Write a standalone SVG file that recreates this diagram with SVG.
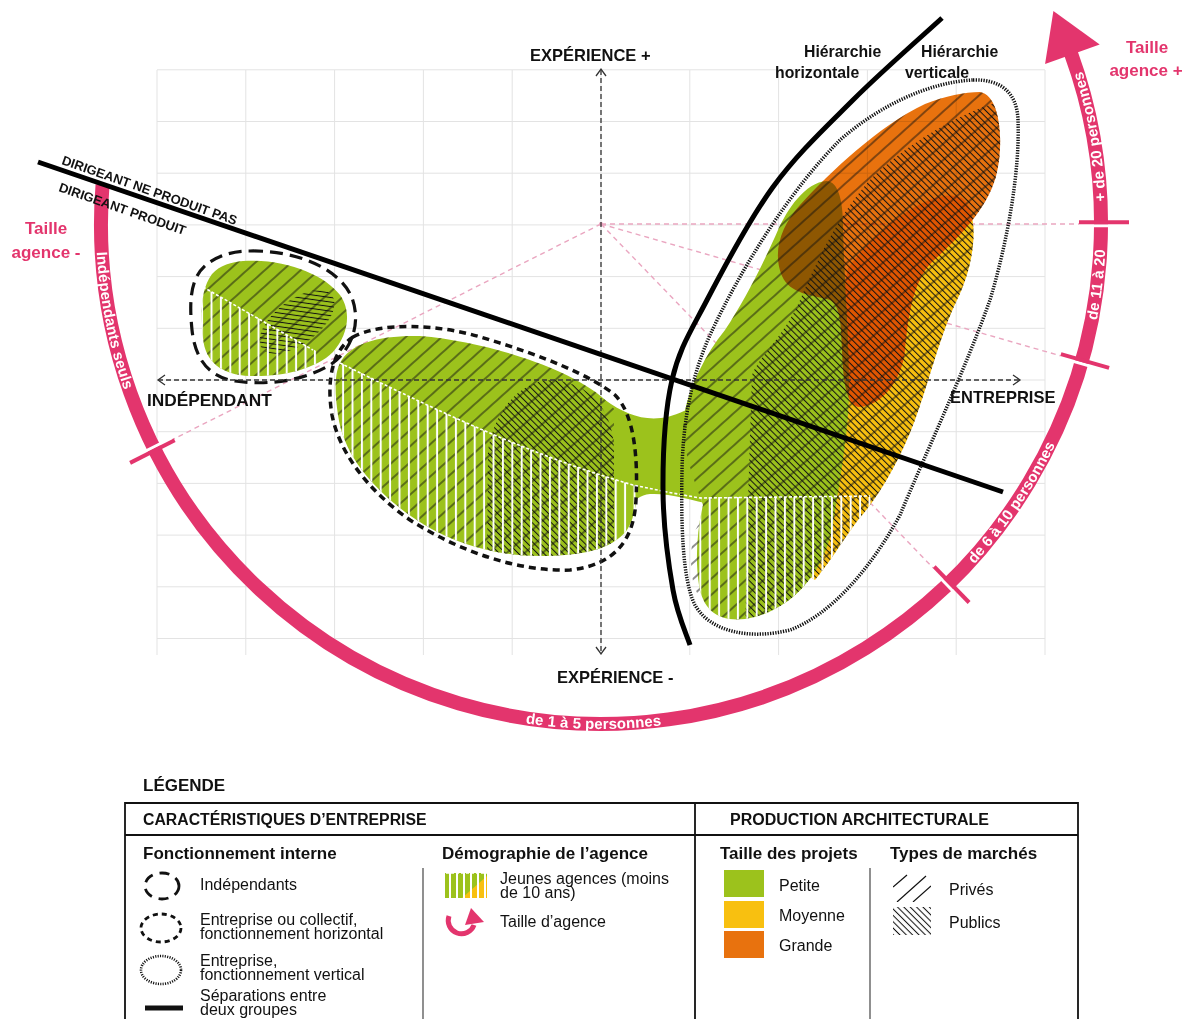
<svg xmlns="http://www.w3.org/2000/svg" width="1191" height="1019" viewBox="0 0 1191 1019">
<defs>
<style>
.grid{stroke:#e3e3e3;stroke-width:1;fill:none}
.axis{stroke:#333;stroke-width:1.3;stroke-dasharray:5 3;fill:none}
.chev{stroke:#333;stroke-width:1.3;fill:none}
.ray{stroke:#eaa6c0;stroke-width:1.4;stroke-dasharray:5 4;fill:none}
.sep{stroke:#000;stroke-width:5;fill:none}
.t{font-family:'Liberation Sans',Arial,sans-serif;fill:#111}
.b{font-weight:bold}
.pk{font-family:'Liberation Sans',Arial,sans-serif;font-weight:bold;fill:#e3356d;font-size:17px;text-anchor:middle}
.arct{font-family:'Liberation Sans',Arial,sans-serif;font-weight:bold;fill:#fff;font-size:15px}
.leg{font-size:16px}
.green{fill:#9cc21c}
.yellow{fill:#f8c010}
.orange{fill:#e8720e}
.wdash{stroke:#fff;stroke-width:1.6;stroke-dasharray:3 2;fill:none}
</style>
<pattern id="priv" patternUnits="userSpaceOnUse" width="20" height="12" patternTransform="rotate(-42)"><line x1="0" y1="6" x2="20" y2="6" stroke="#111" stroke-width="0.95"/></pattern>
<pattern id="pub" patternUnits="userSpaceOnUse" width="10" height="4.5" patternTransform="rotate(45)"><line x1="0" y1="2.25" x2="10" y2="2.25" stroke="#111" stroke-width="1.05"/></pattern>
<pattern id="young" patternUnits="userSpaceOnUse" width="9.4" height="10"><line x1="4.7" y1="0" x2="4.7" y2="10" stroke="#fff" stroke-width="2"/></pattern>
<path id="pSmall" d="M243,261 C285,258 325,275 340,295 C352,312 348,335 333,352 C315,370 280,377 250,376 C222,375 205,362 203,338 C201,315 200,290 212,274 C220,265 232,262 243,261 Z"/>
<path id="pBig" d="M340,363 C350,343 380,335 420,336 C470,340 525,356 560,372 C595,388 622,408 632,440 C640,470 640,510 627,530 C612,550 580,556 540,556 C490,556 440,540 400,508 C365,480 343,450 338,415 C335,395 334,375 340,363 Z"/>
<path id="pNeck" d="M605,400 C630,418 655,425 684,411 L700,405 L715,505 C690,500 670,493 650,494 C640,495 635,500 628,506 Z"/>
<path id="pGreenR" d="M827,181 C838,182 843,200 843,225 C844,280 849,330 849,390 C849,430 840,480 832,530 C822,575 790,612 745,619 C718,622 703,610 699,585 C695,560 697,530 703,505 C690,470 680,440 684,415 C690,385 705,355 725,330 C745,300 765,260 778,230 C787,210 805,182 827,181 Z"/>
<path id="pYellow" d="M962,198 C980,212 976,262 957,300 C940,335 928,385 915,420 C900,460 880,495 858,520 C843,540 830,562 815,580 L800,570 L828,380 L848,268 C880,225 935,185 962,198 Z"/>
<path id="pOrange" d="M980,92 C1000,95 1004,140 997,172 C990,205 962,235 932,262 C912,282 908,320 905,350 C902,382 880,406 860,407 C846,407 843,380 842,350 C841,322 840,306 830,300 C812,295 790,294 782,276 C772,252 781,226 800,205 C830,172 880,125 925,104 C945,96 965,92 980,92 Z"/>
<clipPath id="cSmall"><use href="#pSmall"/></clipPath>
<clipPath id="cBig"><use href="#pBig"/></clipPath>
<clipPath id="cRight"><use href="#pGreenR"/><use href="#pYellow"/><use href="#pOrange"/></clipPath>
<clipPath id="cRightP"><use href="#pGreenR"/><use href="#pYellow"/><use href="#pOrange"/><ellipse cx="703" cy="560" rx="12" ry="38"/></clipPath>
<clipPath id="cPriv"><rect x="893" y="874" width="38" height="28"/></clipPath>
<path id="arcp" d="M102.54,184.77 A500,500 0 1 0 1070.85,52.99"/>
</defs>

<rect width="1191" height="1019" fill="#fff"/>

<g id="grid">
<path class="grid" d="M157,70V655M245.8,70V655M334.6,70V655M423.4,70V655M512.2,70V655M601,70V655M689.8,70V655M778.6,70V655M867.4,70V655M956.2,70V655M1045,70V655M157,69.8H1045M157,121.5H1045M157,173.2H1045M157,224.9H1045M157,276.6H1045M157,328.3H1045M157,380H1045M157,431.7H1045M157,483.4H1045M157,535.1H1045M157,586.8H1045M157,638.5H1045"/>
</g>

<g id="rays">
<path class="ray" d="M601,224 L172.2,439.7 M601,224 L933,567.8 M601,224 L1060.5,355.8 M601,224 L1079,224"/>
<circle cx="601" cy="224" r="2" fill="#eaa6c0"/>
</g>

<g id="size-arc">
<use href="#arcp" fill="none" stroke="#e3356d" stroke-width="14"/>
<polygon points="1053.4,11.1 1045.1,64.1 1099.7,44.5" fill="#e3356d"/>
<g stroke-width="3">
<line x1="162.5" y1="442.6" x2="144.6" y2="451.6" stroke="#fff"/>
<line x1="940.1" y1="577.7" x2="954" y2="592.1" stroke="#fff"/>
<line x1="1071.5" y1="360.7" x2="1090.7" y2="366.3" stroke="#fff"/>
<line x1="1091" y1="225.7" x2="1111" y2="225.8" stroke="#fff"/>
</g>
<g stroke="#e3356d" stroke-width="4">
<line x1="174.7" y1="440.3" x2="130.1" y2="462.9"/>
<line x1="934.2" y1="566.7" x2="969.1" y2="602.5"/>
<line x1="1060.9" y1="354.2" x2="1109.1" y2="367.8"/>
<line x1="1079" y1="222.3" x2="1129" y2="222.2"/>
</g>
<text class="arct" dy="5"><textPath href="#arcp" startOffset="137" text-anchor="middle">Indépendants seuls</textPath></text>
<text class="arct" dy="5"><textPath href="#arcp" startOffset="817" text-anchor="middle">de 1 à 5 personnes</textPath></text>
<text class="arct" dy="5"><textPath href="#arcp" startOffset="1312" text-anchor="middle">de 6 à 10 personnes</textPath></text>
<text class="arct" dy="5"><textPath href="#arcp" startOffset="1549" text-anchor="middle">de 11 à 20</textPath></text>
<text class="arct" dy="5"><textPath href="#arcp" startOffset="1698" text-anchor="middle">+ de 20 personnes</textPath></text>
<text class="pk" x="46" y="234">Taille</text>
<text class="pk" x="46" y="258">agence -</text>
<text class="pk" x="1147" y="53">Taille</text>
<text class="pk" x="1146" y="76">agence +</text>
</g>

<g id="blob-independants">
<use href="#pSmall" class="green"/>
<g clip-path="url(#cSmall)">
<rect x="195" y="255" width="160" height="130" fill="url(#priv)"/>
<ellipse cx="297" cy="322" rx="44" ry="22" transform="rotate(-37 297 322)" fill="url(#pub)"/>
<polygon points="196,283 318,352 318,400 196,400" fill="url(#young)"/>
</g>
<path class="wdash" d="M203,287 L313,350"/>
<path d="M250,251 C295,250 340,268 352,298 C362,325 350,352 330,365 C305,380 270,386 235,381 C208,377 195,358 192,330 C189,300 190,275 210,262 C222,254 236,251 250,251 Z" fill="none" stroke="#111" stroke-width="3.2" stroke-dasharray="13 7"/>
</g>

<g id="blob-horizontal">
<use href="#pBig" class="green"/>
<use href="#pNeck" class="green"/>
<g clip-path="url(#cBig)">
<rect x="330" y="330" width="284" height="240" fill="url(#priv)"/>
<path d="M553,380 C590,383 613,410 614,450 L614,570 L487,570 L488,450 C495,410 520,380 553,380 Z" fill="url(#pub)"/>
<path d="M335,360 C420,402 520,452 633,485 L700,498 L700,600 L335,600 Z" fill="url(#young)"/>
</g>
<path d="M353,337 C380,322 440,323 490,340 C540,355 590,375 615,395 C635,415 638,460 636,500 C634,540 615,565 570,570 C520,572 460,552 410,520 C370,492 340,455 332,415 C327,385 330,352 353,337 Z" fill="none" stroke="#111" stroke-width="3.5" stroke-dasharray="7 5"/>
</g>

<g id="blob-vertical">
<use href="#pYellow" class="yellow"/>
<use href="#pGreenR" class="green"/>
<use href="#pOrange" class="orange" style="mix-blend-mode:multiply"/>
<g clip-path="url(#cRightP)">
<rect x="680" y="85" width="340" height="545" fill="url(#priv)"/>
</g>
<g clip-path="url(#cRight)">
<path d="M1005,100 C960,112 905,145 870,180 C838,215 815,265 800,300 C785,335 760,355 752,375 L748,500 L745,640 L1030,640 L1030,90 Z" fill="url(#pub)"/>
<rect x="686" y="497" width="186" height="143" fill="url(#young)"/>
</g>
<path class="wdash" d="M340,363 C420,402 520,452 633,485 L667,492 L700,498 L870,496"/>
<path d="M973,80 C1000,79 1017,92 1018,120 C1020,170 1008,240 990,300 C965,370 925,455 900,515 C870,570 830,615 790,630 C750,640 710,632 695,605 C682,580 681,520 682,470 C683,420 692,375 710,335 C740,270 790,190 840,140 C880,105 930,82 973,80 Z" fill="none" stroke="#111" stroke-width="3.5" stroke-dasharray="1.3 1.3"/>
</g>

<g id="connectors">
<path class="axis" d="M601,70 V653 M158,380 H1020"/>
<path class="chev" d="M596,76 L601,69 L606,76 M596,647 L601,654 L606,647 M165,375 L158,380 L165,385 M1013,375 L1020,380 L1013,385"/>
<line class="sep" x1="38" y1="162" x2="1003" y2="492"/>
<path class="sep" d="M942,18 C927.2,31.7 881.2,71.8 853,100 C824.8,128.2 797.3,153.7 773,187 C748.7,220.3 723.8,267.8 707,300 C690.2,332.2 679.3,348.3 672,380 C664.7,411.7 662.8,455 663,490 C663.2,525 668.5,564.2 673,590 C677.5,615.8 687.2,635.8 690,645"/>
</g>

<g id="labels" class="t b">
<text x="530" y="61" font-size="16.5">EXPÉRIENCE +</text>
<text x="557" y="683" font-size="16.5">EXPÉRIENCE -</text>
<text x="147" y="406" font-size="17.3">INDÉPENDANT</text>
<text x="950" y="403" font-size="16.5">ENTREPRISE</text>
<text x="804" y="57" font-size="15.8">Hiérarchie</text>
<text x="775" y="78" font-size="15.8">horizontale</text>
<text x="921" y="57" font-size="15.8">Hiérarchie</text>
<text x="905" y="78" font-size="15.8">verticale</text>
<text transform="translate(61,164) rotate(19.3)" font-size="13">DIRIGEANT NE PRODUIT PAS</text>
<text transform="translate(58,191) rotate(19.3)" font-size="13">DIRIGEANT PRODUIT</text>
</g>

<g id="legend">
<text class="t b" x="143" y="791" font-size="17">LÉGENDE</text>
<path d="M125,1025 V803 H1078 V1025 M125,835 H1078 M695,803 V1025" fill="none" stroke="#111" stroke-width="1.8"/>
<path d="M423,868 V1025 M870,868 V1025" fill="none" stroke="#555" stroke-width="1.3"/>
<text class="t b" x="143" y="825" font-size="15.8">CARACTÉRISTIQUES D’ENTREPRISE</text>
<text class="t b" x="730" y="825" font-size="16">PRODUCTION ARCHITECTURALE</text>
<text class="t b" x="143" y="859" font-size="17">Fonctionnement interne</text>
<text class="t b" x="442" y="859" font-size="17">Démographie de l’agence</text>
<text class="t b" x="720" y="859" font-size="17">Taille des projets</text>
<text class="t b" x="890" y="859" font-size="17">Types de marchés</text>

<ellipse cx="162" cy="886" rx="17" ry="13" fill="none" stroke="#111" stroke-width="2.8" stroke-dasharray="10 7"/>
<ellipse cx="161" cy="928" rx="20" ry="14" fill="none" stroke="#111" stroke-width="2.8" stroke-dasharray="5 4"/>
<ellipse cx="161" cy="970" rx="20" ry="14" fill="none" stroke="#111" stroke-width="2.6" stroke-dasharray="1.1 1.3"/>
<line x1="145" y1="1008" x2="183" y2="1008" stroke="#111" stroke-width="5"/>
<g class="t leg">
<text x="200" y="890">Indépendants</text>
<text x="200" y="925">Entreprise ou collectif,</text>
<text x="200" y="939">fonctionnement horizontal</text>
<text x="200" y="966">Entreprise,</text>
<text x="200" y="980">fonctionnement vertical</text>
<text x="200" y="1001">Séparations entre</text>
<text x="200" y="1015">deux groupes</text>
<text x="500" y="884">Jeunes agences (moins</text>
<text x="500" y="898">de 10 ans)</text>
<text x="500" y="927">Taille d’agence</text>
<text x="779" y="891">Petite</text>
<text x="779" y="921">Moyenne</text>
<text x="779" y="951">Grande</text>
<text x="949" y="895">Privés</text>
<text x="949" y="928">Publics</text>
</g>

<rect x="445" y="873" width="42" height="25" fill="#9cc21c"/>
<polygon points="462,898 487,876 487,898" fill="#f8c010"/>
<path d="M450,873V898M457,873V898M464,873V898M471,873V898M478,873V898M485,873V898" stroke="#fff" stroke-width="2"/>
<path class="wdash" d="M446,873 H487"/>

<path d="M449,916 A13,13 0 0 0 474,925" fill="none" stroke="#e3356d" stroke-width="5"/>
<polygon points="471,908 484,922 465,925" fill="#e3356d"/>

<rect x="724" y="870" width="40" height="27" fill="#9cc21c"/>
<rect x="724" y="901" width="40" height="27" fill="#f8c010"/>
<rect x="724" y="931" width="40" height="27" fill="#e8720e"/>

<g clip-path="url(#cPriv)" stroke="#111" stroke-width="1.2">
<line x1="893" y1="887" x2="907" y2="875"/>
<line x1="897" y1="902" x2="926" y2="876"/>
<line x1="913" y1="902" x2="931" y2="886"/>
</g>
<rect x="893" y="907" width="38" height="28" fill="url(#pub)"/>
</g>
</svg>
